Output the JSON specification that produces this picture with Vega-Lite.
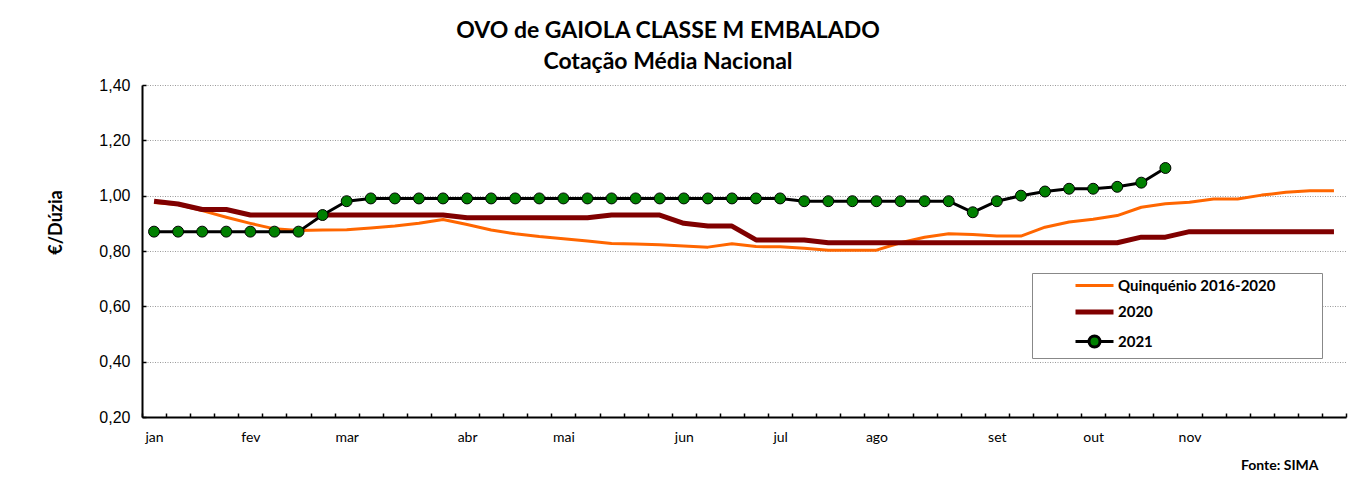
{
 "$schema": "https://vega.github.io/schema/vega-lite/v6.json",
 "width": 1204,
 "height": 332,
 "autosize": {"type": "none"},
 "padding": {"left": 142, "top": 85, "right": 21, "bottom": 64},
 "background": "white",
 "config": {"view": {"stroke": null}},
 "title": {"text": ["OVO de GAIOLA CLASSE M EMBALADO", "Cotação Média Nacional"], "font": "Lato", "fontSize": 23, "fontWeight": "bold", "color": "black", "anchor": "middle", "dx": -76, "lineHeight": 31, "offset": 3},
 "datasets": {
  "prices": [
   {"week":1,"series":"Quinquénio 2016-2020","value":0.975},{"week":2,"series":"Quinquénio 2016-2020","value":0.968},{"week":3,"series":"Quinquénio 2016-2020","value":0.946},{"week":4,"series":"Quinquénio 2016-2020","value":0.922},{"week":5,"series":"Quinquénio 2016-2020","value":0.900},{"week":6,"series":"Quinquénio 2016-2020","value":0.880},{"week":7,"series":"Quinquénio 2016-2020","value":0.874},{"week":8,"series":"Quinquénio 2016-2020","value":0.876},{"week":9,"series":"Quinquénio 2016-2020","value":0.877},{"week":10,"series":"Quinquénio 2016-2020","value":0.883},
   {"week":11,"series":"Quinquénio 2016-2020","value":0.890},{"week":12,"series":"Quinquénio 2016-2020","value":0.900},{"week":13,"series":"Quinquénio 2016-2020","value":0.914},{"week":14,"series":"Quinquénio 2016-2020","value":0.896},{"week":15,"series":"Quinquénio 2016-2020","value":0.876},{"week":16,"series":"Quinquénio 2016-2020","value":0.862},{"week":17,"series":"Quinquénio 2016-2020","value":0.852},{"week":18,"series":"Quinquénio 2016-2020","value":0.844},{"week":19,"series":"Quinquénio 2016-2020","value":0.836},{"week":20,"series":"Quinquénio 2016-2020","value":0.827},
   {"week":21,"series":"Quinquénio 2016-2020","value":0.825},{"week":22,"series":"Quinquénio 2016-2020","value":0.823},{"week":23,"series":"Quinquénio 2016-2020","value":0.818},{"week":24,"series":"Quinquénio 2016-2020","value":0.814},{"week":25,"series":"Quinquénio 2016-2020","value":0.826},{"week":26,"series":"Quinquénio 2016-2020","value":0.816},{"week":27,"series":"Quinquénio 2016-2020","value":0.815},{"week":28,"series":"Quinquénio 2016-2020","value":0.810},{"week":29,"series":"Quinquénio 2016-2020","value":0.803},{"week":30,"series":"Quinquénio 2016-2020","value":0.803},
   {"week":31,"series":"Quinquénio 2016-2020","value":0.803},{"week":32,"series":"Quinquénio 2016-2020","value":0.830},{"week":33,"series":"Quinquénio 2016-2020","value":0.850},{"week":34,"series":"Quinquénio 2016-2020","value":0.862},{"week":35,"series":"Quinquénio 2016-2020","value":0.860},{"week":36,"series":"Quinquénio 2016-2020","value":0.854},{"week":37,"series":"Quinquénio 2016-2020","value":0.854},{"week":38,"series":"Quinquénio 2016-2020","value":0.886},{"week":39,"series":"Quinquénio 2016-2020","value":0.905},{"week":40,"series":"Quinquénio 2016-2020","value":0.915},
   {"week":41,"series":"Quinquénio 2016-2020","value":0.928},{"week":42,"series":"Quinquénio 2016-2020","value":0.958},{"week":43,"series":"Quinquénio 2016-2020","value":0.971},{"week":44,"series":"Quinquénio 2016-2020","value":0.976},{"week":45,"series":"Quinquénio 2016-2020","value":0.988},{"week":46,"series":"Quinquénio 2016-2020","value":0.988},{"week":47,"series":"Quinquénio 2016-2020","value":1.002},{"week":48,"series":"Quinquénio 2016-2020","value":1.012},{"week":49,"series":"Quinquénio 2016-2020","value":1.018},{"week":50,"series":"Quinquénio 2016-2020","value":1.018},
   {"week":1,"series":"2020","value":0.98},{"week":2,"series":"2020","value":0.97},{"week":3,"series":"2020","value":0.95},{"week":4,"series":"2020","value":0.95},{"week":5,"series":"2020","value":0.93},{"week":6,"series":"2020","value":0.93},{"week":7,"series":"2020","value":0.93},{"week":8,"series":"2020","value":0.93},{"week":9,"series":"2020","value":0.93},{"week":10,"series":"2020","value":0.93},
   {"week":11,"series":"2020","value":0.93},{"week":12,"series":"2020","value":0.93},{"week":13,"series":"2020","value":0.93},{"week":14,"series":"2020","value":0.92},{"week":15,"series":"2020","value":0.92},{"week":16,"series":"2020","value":0.92},{"week":17,"series":"2020","value":0.92},{"week":18,"series":"2020","value":0.92},{"week":19,"series":"2020","value":0.92},{"week":20,"series":"2020","value":0.93},
   {"week":21,"series":"2020","value":0.93},{"week":22,"series":"2020","value":0.93},{"week":23,"series":"2020","value":0.90},{"week":24,"series":"2020","value":0.89},{"week":25,"series":"2020","value":0.89},{"week":26,"series":"2020","value":0.84},{"week":27,"series":"2020","value":0.84},{"week":28,"series":"2020","value":0.84},{"week":29,"series":"2020","value":0.83},{"week":30,"series":"2020","value":0.83},
   {"week":31,"series":"2020","value":0.83},{"week":32,"series":"2020","value":0.83},{"week":33,"series":"2020","value":0.83},{"week":34,"series":"2020","value":0.83},{"week":35,"series":"2020","value":0.83},{"week":36,"series":"2020","value":0.83},{"week":37,"series":"2020","value":0.83},{"week":38,"series":"2020","value":0.83},{"week":39,"series":"2020","value":0.83},{"week":40,"series":"2020","value":0.83},
   {"week":41,"series":"2020","value":0.83},{"week":42,"series":"2020","value":0.85},{"week":43,"series":"2020","value":0.85},{"week":44,"series":"2020","value":0.87},{"week":45,"series":"2020","value":0.87},{"week":46,"series":"2020","value":0.87},{"week":47,"series":"2020","value":0.87},{"week":48,"series":"2020","value":0.87},{"week":49,"series":"2020","value":0.87},{"week":50,"series":"2020","value":0.87},
   {"week":1,"series":"2021","value":0.87},{"week":2,"series":"2021","value":0.87},{"week":3,"series":"2021","value":0.87},{"week":4,"series":"2021","value":0.87},{"week":5,"series":"2021","value":0.87},{"week":6,"series":"2021","value":0.87},{"week":7,"series":"2021","value":0.87},{"week":8,"series":"2021","value":0.93},{"week":9,"series":"2021","value":0.98},{"week":10,"series":"2021","value":0.99},
   {"week":11,"series":"2021","value":0.99},{"week":12,"series":"2021","value":0.99},{"week":13,"series":"2021","value":0.99},{"week":14,"series":"2021","value":0.99},{"week":15,"series":"2021","value":0.99},{"week":16,"series":"2021","value":0.99},{"week":17,"series":"2021","value":0.99},{"week":18,"series":"2021","value":0.99},{"week":19,"series":"2021","value":0.99},{"week":20,"series":"2021","value":0.99},
   {"week":21,"series":"2021","value":0.99},{"week":22,"series":"2021","value":0.99},{"week":23,"series":"2021","value":0.99},{"week":24,"series":"2021","value":0.99},{"week":25,"series":"2021","value":0.99},{"week":26,"series":"2021","value":0.99},{"week":27,"series":"2021","value":0.99},{"week":28,"series":"2021","value":0.98},{"week":29,"series":"2021","value":0.98},{"week":30,"series":"2021","value":0.98},
   {"week":31,"series":"2021","value":0.98},{"week":32,"series":"2021","value":0.98},{"week":33,"series":"2021","value":0.98},{"week":34,"series":"2021","value":0.98},{"week":35,"series":"2021","value":0.94},{"week":36,"series":"2021","value":0.98},{"week":37,"series":"2021","value":1.00},{"week":38,"series":"2021","value":1.015},{"week":39,"series":"2021","value":1.025},{"week":40,"series":"2021","value":1.025},
   {"week":41,"series":"2021","value":1.032},{"week":42,"series":"2021","value":1.047},{"week":43,"series":"2021","value":1.10}
  ]
 },
 "data": {"name": "prices"},
 "encoding": {
  "x": {
   "field": "week", "type": "ordinal",
   "scale": {"type": "band", "paddingInner": 0, "paddingOuter": 0},
   "axis": {
    "title": "Fonte: SIMA", "titleFont": "Lato", "titleFontSize": 14, "titleFontWeight": "bold", "titleColor": "black",
    "titleAlign": "right", "titleX": 1176, "titleY": 48, "titleBaseline": "middle", "titleAnchor": "end",
    "labelExpr": "datum.value == 1 ? 'jan' : datum.value == 5 ? 'fev' : datum.value == 9 ? 'mar' : datum.value == 14 ? 'abr' : datum.value == 18 ? 'mai' : datum.value == 23 ? 'jun' : datum.value == 27 ? 'jul' : datum.value == 31 ? 'ago' : datum.value == 36 ? 'set' : datum.value == 40 ? 'out' : datum.value == 44 ? 'nov' : ''",
    "labelAngle": 0, "labelOverlap": false, "labelFont": "Lato", "labelFontSize": 14, "labelColor": "black", "labelPadding": 17,
    "tickBand": "extent", "tickSize": -4, "tickColor": "black", "tickWidth": 1.5,
    "domainColor": "black", "domainWidth": 2, "grid": false
   }
  },
  "y": {
   "field": "value", "type": "quantitative",
   "scale": {"domain": [0.2, 1.4], "nice": false, "zero": false},
   "axis": {
    "title": "€/Dúzia", "titleFont": "Lato", "titleFontSize": 18, "titleFontWeight": "bold", "titleColor": "black",
    "titleX": -86, "titleY": 137, "titleBaseline": "middle", "titleAlign": "center",
    "values": [0.2, 0.4, 0.6, 0.8, 1.0, 1.2, 1.4],
    "labelExpr": "replace(format(datum.value, '.2f'), '.', ',')",
    "labelFont": "Liberation Sans", "labelFontSize": 16, "labelColor": "black", "labelPadding": 16,
    "tickSize": -4, "tickColor": "black", "tickWidth": 1.5,
    "domainColor": "black", "domainWidth": 2,
    "grid": true, "gridColor": "#9a9a9a", "gridDash": [1, 1.5], "gridWidth": 1
   }
  }
 },
 "layer": [
  {
   "transform": [{"filter": "datum.series === 'Quinquénio 2016-2020'"}],
   "mark": {"type": "line", "strokeWidth": 3, "strokeJoin": "round"},
   "encoding": {"color": {"field": "series", "type": "nominal",
     "scale": {"domain": ["Quinquénio 2016-2020", "2020", "2021"], "range": ["#FF6600", "#800000", "#000000"]},
     "legend": {"title": "\u00a0", "titleOrient": "right", "titlePadding": 42, "titleFontSize": 12,
       "orient": "none", "legendX": 890, "legendY": 188, "direction": "vertical",
       "strokeColor": "#888888", "fillColor": "white", "padding": 5,
       "labelFont": "Lato", "labelFontSize": 15, "labelFontWeight": "bold", "labelColor": "black",
       "symbolType": "M-1.9,0H1.9", "symbolSize": 400, "symbolStrokeWidth": 3, "symbolOffset": 50, "labelOffset": 16, "rowPadding": 7.5,
       "encode": {
        "symbols": {"update": {
         "shape": {"signal": "datum.value === '2021' ? 'M-1.9,0H-0.55M0.55,0H1.9M-0.55,0A0.55,0.55 0 1,1 0.55,0A0.55,0.55 0 1,1 -0.55,0Z' : 'M-1.9,0H1.9'"},
         "strokeWidth": {"signal": "datum.value === '2020' ? 5 : 3"},
         "fill": {"signal": "datum.value === '2021' ? '#008000' : 'transparent'"}
        }}
       }
     }}}
  },
  {
   "transform": [{"filter": "datum.series === '2020'"}],
   "mark": {"type": "line", "strokeWidth": 5, "strokeJoin": "round"},
   "encoding": {"color": {"field": "series", "type": "nominal"}}
  },
  {
   "transform": [{"filter": "datum.series === '2021'"}],
   "mark": {"type": "line", "strokeWidth": 3, "strokeJoin": "round"},
   "encoding": {"color": {"field": "series", "type": "nominal"}}
  },
  {
   "transform": [{"filter": "datum.series === '2021'"}],
   "mark": {"type": "point", "filled": true, "fill": "#008000", "stroke": "#000000", "strokeWidth": 1, "size": 120, "opacity": 1}
  }
 ]
}
